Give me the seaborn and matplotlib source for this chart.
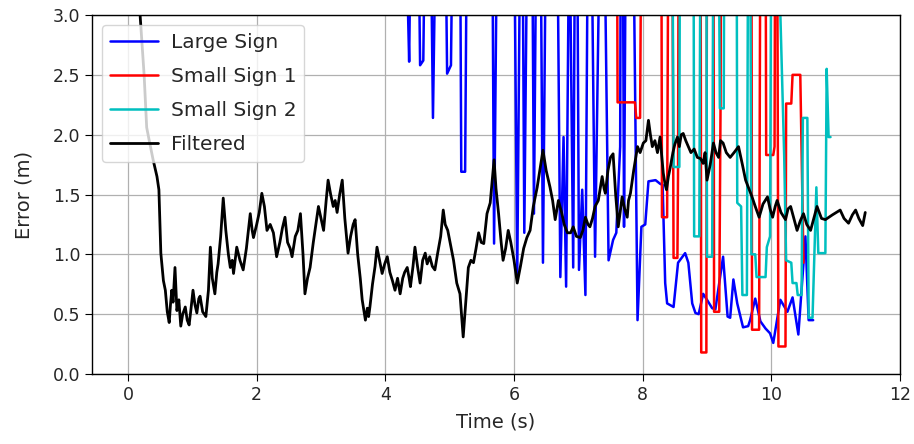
import numpy as np
import pandas as pd
import matplotlib
matplotlib.use("Agg")
import matplotlib.pyplot as plt
import seaborn as sns

# ---------------- data ----------------
# values above the visible range (clipped at 3.0) are given as 4.0
large_t = [4.31, 4.37, 4.40, 4.51, 4.54, 4.59, 4.62, 4.70, 4.74, 4.79, 4.93, 4.96, 5.02, 5.05,
           5.16, 5.18, 5.24, 5.27, 5.66, 5.69, 5.74, 6.00, 6.05, 6.10, 6.13, 6.16, 6.21, 6.28,
           6.31, 6.35, 6.41, 6.45, 6.50, 6.67, 6.72, 6.77, 6.81, 6.86, 6.92, 6.95, 6.98, 7.01,
           7.06, 7.11, 7.15, 7.20, 7.26, 7.34, 7.40, 7.47, 7.54, 7.59, 7.65, 7.66, 7.69, 7.71,
           7.74, 7.85, 7.92, 7.98, 8.04, 8.09, 8.20, 8.27, 8.31, 8.35, 8.38, 8.48, 8.55, 8.66,
           8.71, 8.77, 8.82, 8.87, 8.94, 9.00, 9.08, 9.13, 9.25, 9.32, 9.36, 9.41, 9.47, 9.56,
           9.64, 9.67, 9.75, 9.83, 9.91, 9.98, 10.03, 10.14, 10.25, 10.33, 10.42, 10.53, 10.58,
           10.65]
large_v = [4.0, 2.61, 4.0, 4.0, 2.58, 2.62, 4.0, 4.0, 2.14, 4.0, 4.0, 2.51, 2.58, 4.0,
           4.0, 1.69, 1.69, 4.0, 4.0, 1.09, 4.0, 4.0, 0.81, 4.0, 4.0, 1.18, 4.0, 4.0,
           1.34, 4.0, 4.0, 0.93, 4.0, 4.0, 0.81, 1.98, 0.73, 4.0, 0.89, 4.0, 4.0, 0.87,
           1.54, 0.66, 4.0, 4.0, 0.98, 4.0, 4.0, 0.95, 1.12, 1.18, 1.90, 4.0, 4.0, 1.23,
           4.0, 4.0, 0.45, 1.23, 1.25, 1.61, 1.62, 1.59, 1.58, 0.76, 0.59, 0.56, 0.93, 1.01,
           0.93, 0.59, 0.51, 0.50, 0.67, 0.62, 0.55, 0.54, 0.98, 0.48, 0.47, 0.79, 0.59, 0.39,
           0.40, 0.45, 0.63, 0.44, 0.38, 0.34, 0.26, 0.62, 0.52, 0.64, 0.33, 1.15, 0.45,
           0.45]

small1_t = [7.60, 7.61, 7.88, 7.90, 7.96, 7.98, 8.29, 8.30, 8.38, 8.40, 8.46, 8.48, 8.54, 8.55,
            8.56, 8.90, 8.91, 8.99, 9.00, 9.10, 9.11, 9.19, 9.21, 9.22, 9.69, 9.70, 9.81, 9.83,
            9.91, 9.92, 10.03, 10.05, 10.06, 10.09, 10.11, 10.22, 10.23, 10.31, 10.33, 10.45,
            10.50]
small1_v = [4.0, 2.27, 2.27, 2.14, 2.14, 4.0, 4.0, 1.31, 1.31, 4.0, 4.0, 0.97, 0.97, 1.72,
            4.0, 4.0, 0.18, 0.18, 4.0, 4.0, 0.52, 0.52, 2.20, 4.0, 4.0, 0.37, 0.37, 4.0,
            4.0, 1.83, 1.83, 1.90, 4.0, 4.0, 0.23, 0.23, 2.26, 2.26, 2.50, 2.50,
            0.93]

small2_t = [8.46, 8.48, 8.57, 8.58, 8.79, 8.80, 8.88, 8.90, 8.99, 9.00, 9.08, 9.10, 9.18, 9.20,
            9.26, 9.27, 9.46, 9.47, 9.53, 9.55, 9.62, 9.64, 9.67, 9.69, 9.75, 9.77, 9.91, 9.93,
            9.98, 10.00, 10.09, 10.20, 10.23, 10.31, 10.33, 10.39, 10.41, 10.47, 10.49, 10.56,
            10.58, 10.64, 10.70, 10.73, 10.84, 10.86, 10.89, 10.92]
small2_v = [4.0, 1.73, 1.73, 4.0, 4.0, 1.15, 1.15, 4.0, 4.0, 0.98, 0.98, 4.0, 4.0, 2.22,
            2.22, 4.0, 4.0, 1.43, 1.40, 0.66, 0.66, 4.0, 4.0, 1.00, 1.00, 0.81, 0.81, 1.06,
            1.15, 4.0, 4.0, 1.82, 0.95, 0.93, 0.76, 0.76, 0.66, 0.66, 2.14, 2.14,
            0.47, 0.47, 1.56, 1.01, 1.01, 2.55, 1.98, 1.98]

filt_t = [0.17, 0.19, 0.25, 0.29, 0.33, 0.39, 0.45, 0.48, 0.51, 0.55, 0.58, 0.61, 0.64, 0.66,
          0.68, 0.70, 0.73, 0.76, 0.79, 0.82, 0.85, 0.89, 0.92, 0.95, 0.98, 1.01, 1.04, 1.07,
          1.10, 1.12, 1.16, 1.21, 1.25, 1.28, 1.31, 1.35, 1.38, 1.40, 1.44, 1.48, 1.52, 1.56,
          1.59, 1.62, 1.64, 1.69, 1.74, 1.79, 1.84, 1.90, 1.93, 1.95, 2.00, 2.04, 2.08, 2.12,
          2.16, 2.21, 2.26, 2.31, 2.36, 2.40, 2.44, 2.48, 2.52, 2.55, 2.60, 2.64, 2.68, 2.72,
          2.75, 2.79, 2.83, 2.88, 2.92, 2.96, 3.00, 3.04, 3.08, 3.11, 3.15, 3.19, 3.22, 3.25,
          3.29, 3.33, 3.37, 3.42, 3.46, 3.50, 3.53, 3.57, 3.61, 3.64, 3.67, 3.69, 3.72, 3.74,
          3.76, 3.80, 3.84, 3.87, 3.91, 3.95, 3.99, 4.03, 4.07, 4.11, 4.15, 4.19, 4.23, 4.27,
          4.30, 4.34, 4.37, 4.39, 4.43, 4.46, 4.50, 4.54, 4.58, 4.62, 4.65, 4.69, 4.73, 4.77,
          4.81, 4.86, 4.90, 4.93, 4.97, 5.01, 5.06, 5.11, 5.16, 5.21, 5.25, 5.29, 5.33, 5.37,
          5.41, 5.45, 5.49, 5.53, 5.58, 5.63, 5.69, 5.72, 5.76, 5.80, 5.83, 5.87, 5.91, 5.95,
          6.00, 6.05, 6.10, 6.15, 6.20, 6.25, 6.30, 6.36, 6.40, 6.45, 6.50, 6.56, 6.60, 6.64,
          6.69, 6.74, 6.78, 6.83, 6.88, 6.92, 6.97, 7.03, 7.07, 7.11, 7.15, 7.18, 7.22, 7.26,
          7.31, 7.37, 7.40, 7.42, 7.46, 7.50, 7.54, 7.58, 7.62, 7.65, 7.68, 7.72, 7.76, 7.78,
          7.81, 7.86, 7.92, 7.96, 8.01, 8.05, 8.09, 8.12, 8.15, 8.19, 8.23, 8.27, 8.32, 8.35,
          8.37, 8.40, 8.43, 8.47, 8.50, 8.54, 8.57, 8.60, 8.63, 8.67, 8.71, 8.75, 8.80, 8.85,
          8.90, 8.94, 8.97, 9.00, 9.05, 9.10, 9.14, 9.18, 9.21, 9.25, 9.30, 9.36, 9.42, 9.49,
          9.55, 9.60, 9.65, 9.70, 9.75, 9.81, 9.87, 9.94, 9.98, 10.02, 10.06, 10.09, 10.15,
          10.22, 10.26, 10.30, 10.35, 10.40, 10.45, 10.50, 10.55, 10.61, 10.66, 10.71, 10.78,
          10.84, 10.95, 11.07, 11.13, 11.20, 11.26, 11.31, 11.36, 11.42, 11.46]
filt_v = [3.30, 2.98, 2.50, 2.06, 1.95, 1.79, 1.65, 1.54, 1.01, 0.78, 0.70, 0.52, 0.43, 0.58,
          0.70, 0.60, 0.89, 0.53, 0.62, 0.40, 0.50, 0.56, 0.45, 0.41, 0.55, 0.70, 0.58, 0.51,
          0.63, 0.65, 0.52, 0.48, 0.70, 1.06, 0.80, 0.67, 0.85, 0.92, 1.15, 1.47, 1.20, 1.00,
          0.89, 0.95, 0.84, 1.06, 0.95, 0.87, 1.05, 1.34, 1.20, 1.14, 1.25, 1.35, 1.51, 1.40,
          1.20, 1.25, 1.18, 0.98, 1.10, 1.22, 1.31, 1.10, 1.05, 0.98, 1.15, 1.20, 1.34, 1.00,
          0.67, 0.80, 0.89, 1.10, 1.25, 1.40, 1.30, 1.20, 1.45, 1.62, 1.50, 1.40, 1.45, 1.35,
          1.50, 1.62, 1.30, 1.01, 1.15, 1.25, 1.29, 1.00, 0.80, 0.62, 0.52, 0.45, 0.55, 0.48,
          0.56, 0.75, 0.90, 1.06, 0.95, 0.84, 0.92, 0.98, 0.85, 0.78, 0.70, 0.80, 0.67, 0.80,
          0.85, 0.89, 0.80, 0.73, 0.90, 1.06, 0.90, 0.76, 0.95, 1.01, 0.92, 0.98, 0.90, 0.87,
          1.00, 1.15, 1.37, 1.25, 1.20, 1.09, 0.95, 0.76, 0.67, 0.31, 0.60, 0.89, 0.95, 0.93,
          1.05, 1.18, 1.10, 1.09, 1.34, 1.43, 1.79, 1.55, 1.34, 1.10, 0.95, 1.05, 1.20, 1.10,
          0.95, 0.76, 0.90, 1.05, 1.14, 1.20, 1.40, 1.56, 1.70, 1.87, 1.70, 1.56, 1.45, 1.29,
          1.45, 1.35, 1.25, 1.18, 1.18, 1.23, 1.15, 1.14, 1.20, 1.31, 1.25, 1.23, 1.30, 1.40,
          1.45, 1.65, 1.55, 1.51, 1.70, 1.81, 1.84, 1.50, 1.23, 1.35, 1.48, 1.38, 1.31, 1.45,
          1.51, 1.70, 1.90, 1.85, 1.93, 1.95, 2.12, 2.00, 1.90, 1.95, 1.85, 1.98, 1.68, 1.58,
          1.54, 1.65, 1.73, 1.85, 1.92, 1.98, 1.90, 2.00, 2.01, 1.95, 1.90, 1.85, 1.88, 1.81,
          1.80, 1.76, 1.85, 1.62, 1.75, 1.93, 1.85, 1.81, 1.95, 1.93, 1.85, 1.81, 1.85, 1.90,
          1.75, 1.62, 1.55, 1.48, 1.40, 1.31, 1.42, 1.48, 1.38, 1.31, 1.40, 1.45, 1.35,
          1.29, 1.38, 1.40, 1.30, 1.20, 1.28, 1.34, 1.25, 1.20, 1.30, 1.40, 1.30,
          1.29, 1.33, 1.37, 1.30, 1.26, 1.33, 1.37, 1.30, 1.24, 1.35]

series_names = ["Large Sign", "Small Sign 1", "Small Sign 2", "Filtered"]
series_colors = ["#0000ff", "#ff0000", "#00bfbf", "#000000"]
series_widths = [1.8, 1.8, 1.8, 2.0]
x_ticks = [0, 2, 4, 6, 8, 10, 12]
y_ticks = [0.0, 0.5, 1.0, 1.5, 2.0, 2.5, 3.0]

# ---------------- plot ----------------
sns.set_style("ticks", {"axes.grid": True, "grid.color": "#b0b0b0",
                        "axes.edgecolor": "black"})
plt.rcParams["font.family"] = ["DejaVu Sans"]

fig = plt.figure(figsize=(9.14, 4.44), dpi=100)
ax = fig.add_axes([92 / 914, 1 - 374 / 444, (900 - 92) / 914, (374 - 15) / 444])

all_series = [(large_t, large_v), (small1_t, small1_v), (small2_t, small2_v), (filt_t, filt_v)]
for (t, v), name, col, lw in zip(all_series, series_names, series_colors, series_widths):
    df = pd.DataFrame({"t": t, "v": v})
    sns.lineplot(data=df, x="t", y="v", ax=ax, color=col, linewidth=lw,
                 sort=False, estimator=None, label=name)

ax.set_xlim(-0.56, 12.0)
ax.set_ylim(0.0, 3.0)
ax.set_xticks(x_ticks)
ax.set_yticks(y_ticks)
ax.set_xticklabels([str(x) for x in x_ticks])
ax.set_yticklabels([f"{y:.1f}" for y in y_ticks])
ax.tick_params(labelsize=12.5, direction="out", length=5, color="black")
ax.grid(True, color="#b0b0b0", linewidth=0.9)
for s in ax.spines.values():
    s.set_visible(True)
    s.set_color("black")
    s.set_linewidth(1.0)
ax.set_xlabel("Time (s)", fontsize=14, labelpad=6)
ax.set_ylabel("Error (m)", fontsize=14, labelpad=14)
ax.legend(loc="upper left", fontsize=14.5, framealpha=0.8, edgecolor="#cccccc",
          handlelength=2.4, handletextpad=0.6, labelspacing=0.75, borderaxespad=0.5)

fig.savefig("out.png", dpi=100)
